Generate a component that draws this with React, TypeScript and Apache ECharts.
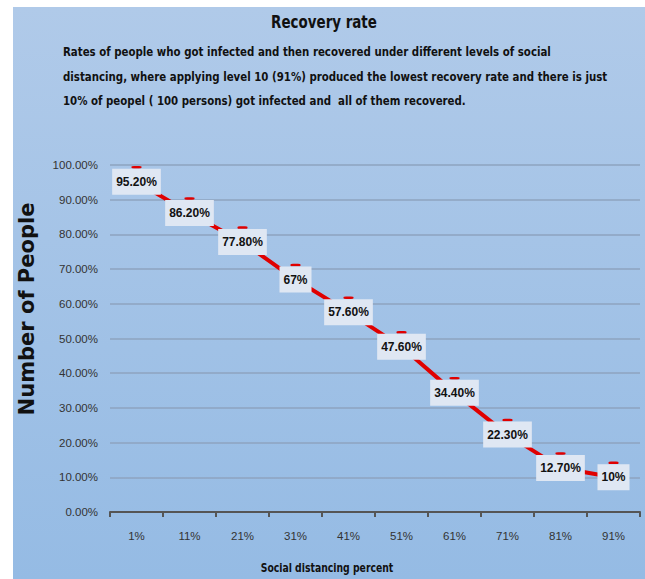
import React, { useEffect, useRef } from "react";
import * as echarts from "echarts";

const categories = ["1%", "11%", "21%", "31%", "41%", "51%", "61%", "71%", "81%", "91%"];
const recoveryRate = [95.2, 86.2, 77.8, 67, 57.6, 47.6, 34.4, 22.3, 12.7, 10];
const titleText = "Recovery rate";
const subtitleLines = [
  "Rates of people who got infected and then recovered under different levels of social",
  "distancing, where applying level 10 (91%) produced the lowest recovery rate and there is just",
  "10% of peopel ( 100 persons) got infected and  all of them recovered.",
];
const yAxisTitle = "Number of People";
const xAxisTitle = "Social distancing percent";

const COND = '"DejaVu Sans Condensed", "DejaVu Sans", sans-serif';
const LIB = '"Liberation Sans", Arial, sans-serif';

export default function App() {
  const ref = useRef<HTMLDivElement>(null);
  useEffect(() => {
    document.body.style.margin = "0";
    const chart = echarts.init(ref.current!, undefined, { renderer: "svg" });
    const fmt = (v: number) => (Number.isInteger(v) ? `${v}%` : `${v.toFixed(2)}%`);
    chart.setOption({
      animation: false,
      backgroundColor: "#ffffff",
      graphic: [
        {
          type: "rect",
          z: -10,
          silent: true,
          shape: { x: 13, y: 7, width: 632, height: 572 },
          style: {
            fill: {
              type: "linear",
              x: 0,
              y: 0,
              x2: 0,
              y2: 1,
              colorStops: [
                { offset: 0, color: "#b0cae9" },
                { offset: 1, color: "#95bbe4" },
              ],
            },
          },
        },
        {
          type: "text",
          x: 324,
          y: 22,
          scaleX: 0.83,
          style: {
            text: titleText,
            font: `bold 18px ${COND}`,
            fill: "#111",
            align: "center",
            verticalAlign: "middle",
          },
        },
        ...subtitleLines.map((t, i) => ({
          type: "text",
          x: 63,
          y: 52 + i * 24.5,
          scaleX: 0.875,
          style: {
            text: t,
            font: `bold 13px ${COND}`,
            fill: "#111",
            align: "left",
            verticalAlign: "middle",
          },
        })),
        {
          type: "text",
          x: 27,
          y: 309,
          rotation: Math.PI / 2,
          style: {
            text: yAxisTitle,
            font: 'bold 21px "DejaVu Sans", sans-serif',
            fill: "#111",
            align: "center",
            verticalAlign: "middle",
          },
        },
        {
          type: "text",
          x: 327,
          y: 568,
          scaleX: 0.86,
          style: {
            text: xAxisTitle,
            font: `bold 12px ${COND}`,
            fill: "#111",
            align: "center",
            verticalAlign: "middle",
          },
        },
      ],
      grid: { left: 110, right: 5, top: 165, bottom: 67, containLabel: false },
      xAxis: {
        type: "category",
        data: categories,
        boundaryGap: true,
        axisLine: { show: true, lineStyle: { color: "#555", width: 2 } },
        axisTick: { show: true, inside: false, length: 5, lineStyle: { color: "#555", width: 2 } },
        axisLabel: { margin: 18, color: "#333", fontSize: 11.5, fontFamily: LIB },
        splitLine: { show: false },
      },
      yAxis: {
        type: "value",
        min: 0,
        max: 100,
        interval: 10,
        axisLine: { show: false },
        axisTick: { show: false },
        axisLabel: {
          margin: 12,
          color: "#333",
          fontSize: 11.5,
          fontFamily: LIB,
          formatter: (v: number) => `${v.toFixed(2)}%`,
        },
        splitLine: { show: true, lineStyle: { color: "#8ea3bf", width: 1.5 } },
      },
      series: [
        {
          type: "line",
          data: recoveryRate,
          lineStyle: { color: "#e00000", width: 4 },
          itemStyle: { color: "#e00000" },
          symbol: "roundRect",
          symbolSize: [10, 2.5],
          symbolOffset: [0, -14.5],
          label: { show: false },
          z: 2,
        },
        {
          type: "scatter",
          data: recoveryRate,
          symbol: "circle",
          symbolSize: 1,
          itemStyle: { color: "rgba(0,0,0,0)", opacity: 1 },
          label: {
            show: true,
            position: "inside",
            formatter: (p: any) => fmt(p.value),
            color: "#111",
            fontWeight: "bold",
            fontSize: 12,
            fontFamily: LIB,
            backgroundColor: "#dfe7f3",
            padding: [7, 4, 7, 4],
            opacity: 1,
          },
          z: 4,
        },
      ],
    });
    return () => chart.dispose();
  }, []);
  return (
    <div style={{ position: "absolute", left: 0, top: 0, width: 645, height: 579, background: "#fff" }}>
      <div ref={ref} style={{ width: 645, height: 579 }} />
    </div>
  );
}
